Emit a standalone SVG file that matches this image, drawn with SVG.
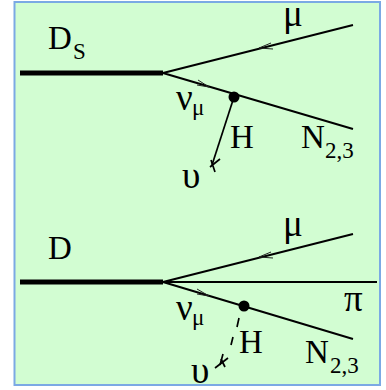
<svg xmlns="http://www.w3.org/2000/svg" width="386" height="390" viewBox="0 0 386 390">
<style>
.t{font-family:"Liberation Serif","Times New Roman",serif;fill:#000}
.d{font-size:33px}
.g{font-size:37px}
.s{font-size:23px}
.c{fill:none;stroke:#000;stroke-width:2}
.h{fill:none;stroke:#000;stroke-width:1.7}
.a{fill:none;stroke:#222;stroke-width:1}
.b{fill:none;stroke:#000;stroke-width:5}
</style>
<rect width="386" height="390" fill="#fff"/>
<rect x="14.5" y="2" width="365.5" height="383" fill="#d2fdd2" stroke="#7ba9e4" stroke-width="2"/>
<g id="connectors">
<path class="b" d="M20 73H163"/>
<path class="c" d="M163 73L353 25M163 73L353 129"/>
<path class="h" d="M234 97L212 165"/>
<path class="a" d="M271 43L259 48L273 49M198 80L209 87L197 85"/>
<path class="h" d="M210 167L220 159M211 160L215 172"/>
<path class="b" d="M20 282H163"/>
<path class="c" d="M163 282L353 234M163 282H377M163 282L353 339"/>
<path class="h" d="M239 318L237 327M233 337L231 345M223 354L220 365"/>
<path class="a" d="M271 252L259 257L273 258M197 289L209 296L197 294"/>
<path class="h" d="M215 368L228 358M221 359L225 367"/>
</g>
<g id="node-ds"><text class="t d" x="48" y="49">D</text><text class="t s" x="73" y="59">S</text></g>
<g id="node-vertex-1"><circle cx="234" cy="97" r="5.5" fill="#000"/></g>
<g id="node-vertex-2"><circle cx="244" cy="306" r="5.5" fill="#000"/></g>
<g id="label-top">
<text class="t g" x="283" y="26">μ</text>
<text class="t g" x="176" y="110">ν</text><text class="t s" x="192" y="115">μ</text>
<text class="t d" x="230" y="148">H</text>
<text class="t d" x="301" y="148">N</text><text class="t s" x="325" y="158">2,3</text>
<text class="t g" x="182" y="188">υ</text>
</g>
<g id="label-bottom">
<text class="t d" x="48" y="259">D</text>
<text class="t g" x="283" y="236">μ</text>
<text class="t g" x="344" y="311">π</text>
<text class="t g" x="176" y="320">ν</text><text class="t s" x="192" y="325">μ</text>
<text class="t d" x="239" y="353">H</text>
<text class="t d" x="305" y="363">N</text><text class="t s" x="330" y="373">2,3</text>
<text class="t g" x="191" y="383">υ</text>
</g>
</svg>
